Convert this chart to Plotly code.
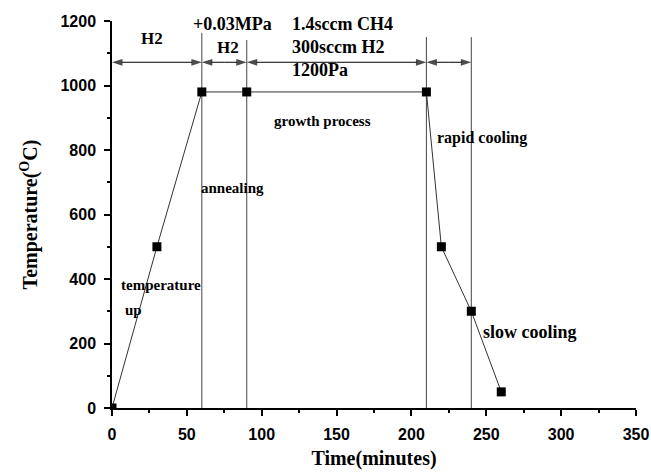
import plotly.graph_objects as go

# ---- data ----
time_min = [0, 30, 60, 90, 210, 220, 240, 260]
temperature_c = [0, 500, 980, 980, 980, 500, 300, 50]

stage_bounds = [60, 90, 210, 240]          # vertical stage separators (minutes)
stage_line_tops = [1163, 1141, 1150, 1150] # top of each separator (deg C)
arrow_bounds = [0, 60, 90, 210, 240]       # double-arrow segment edges
arrow_level = 1072

x_ticks = [0, 50, 100, 150, 200, 250, 300, 350]
y_ticks = [0, 200, 400, 600, 800, 1000, 1200]

SERIF = "Liberation Serif, Times New Roman, serif"
SANS = "Liberation Sans, Arial, sans-serif"

fig = go.Figure()

# stage separators
for xb, top in zip(stage_bounds, stage_line_tops):
    fig.add_trace(go.Scatter(
        x=[xb, xb], y=[0, top], mode="lines",
        line=dict(color="#444444", width=1), showlegend=False, hoverinfo="skip",
    ))

# double-headed arrows: each segment drawn from its midpoint outwards
ax_x, ax_y, ax_s = [], [], []
for a, b in zip(arrow_bounds[:-1], arrow_bounds[1:]):
    m = (a + b) / 2
    ax_x += [m, a, None, m, b, None]
    ax_y += [arrow_level, arrow_level, None, arrow_level, arrow_level, None]
    ax_s += [0, 11, 0, 0, 11, 0]
fig.add_trace(go.Scatter(
    x=ax_x, y=ax_y, mode="lines+markers",
    line=dict(color="black", width=1),
    marker=dict(symbol="arrow", angleref="previous", size=ax_s, color="black",
                line=dict(width=0)),
    cliponaxis=False, showlegend=False, hoverinfo="skip",
))

# temperature profile
fig.add_trace(go.Scatter(
    x=time_min, y=temperature_c, mode="lines+markers",
    line=dict(color="#333333", width=1),
    marker=dict(symbol="square", size=9, color="black"),
    showlegend=False,
))

annotations = []

def label(text, x, y, size, xanchor="left"):
    annotations.append(dict(
        x=x, y=y, xref="x", yref="y", text=text, showarrow=False,
        xanchor=xanchor, yanchor="middle",
        font=dict(family=SERIF, size=size, color="black", weight="bold"),
    ))

label("H2", 26.7, 1147, 17, "center")
label("+0.03MPa", 80.8, 1190, 18, "center")
label("H2", 77.4, 1118, 17, "center")
label("1.4sccm CH4", 118.8, 1190, 18)
label("300sccm H2", 118.8, 1118, 18)
label("1200Pa", 118.8, 1047, 18)
label("growth process", 140.5, 890, 15, "center")
label("rapid cooling", 216, 837, 16)
label("annealing", 58.3, 682, 15)
label("temperature", 4.7, 381, 15)
label("up", 7.1, 303, 15)
label("slow cooling", 246.8, 236, 18)

fig.update_layout(
    width=651, height=473,
    margin=dict(l=112, r=15, t=21, b=65),
    plot_bgcolor="white", paper_bgcolor="white",
    annotations=annotations,
    xaxis=dict(
        range=[0, 350], tickvals=x_ticks, ticktext=[str(v) for v in x_ticks],
        automargin=False,
        showgrid=False, zeroline=False, showline=True, linecolor="black", linewidth=1.5,
        ticks="outside", ticklen=6, tickwidth=1.5, tickcolor="black",
        minor=dict(ticks="outside", ticklen=3, tickwidth=1.5, tickcolor="black", dtick=25),
        tickfont=dict(family=SANS, size=16, color="black", weight="bold"),
        ticklabelstandoff=5,
        title=dict(text="Time(minutes)", standoff=9,
                   font=dict(family=SERIF, size=20, color="black", weight="bold")),
    ),
    yaxis=dict(
        range=[0, 1200], tickvals=y_ticks, ticktext=[str(v) for v in y_ticks],
        automargin=False,
        showgrid=False, zeroline=False, showline=True, linecolor="black", linewidth=1.5,
        ticks="outside", ticklen=6, tickwidth=1.5, tickcolor="black",
        minor=dict(ticks="outside", ticklen=3, tickwidth=1.5, tickcolor="black", dtick=100),
        tickfont=dict(family=SANS, size=16, color="black", weight="bold"),
        ticklabelstandoff=5,
        title=dict(text="Temperature(<sup>O</sup>C)", standoff=17,
                   font=dict(family=SERIF, size=20, color="black", weight="bold")),
    ),
)

fig.write_html("out.html")
